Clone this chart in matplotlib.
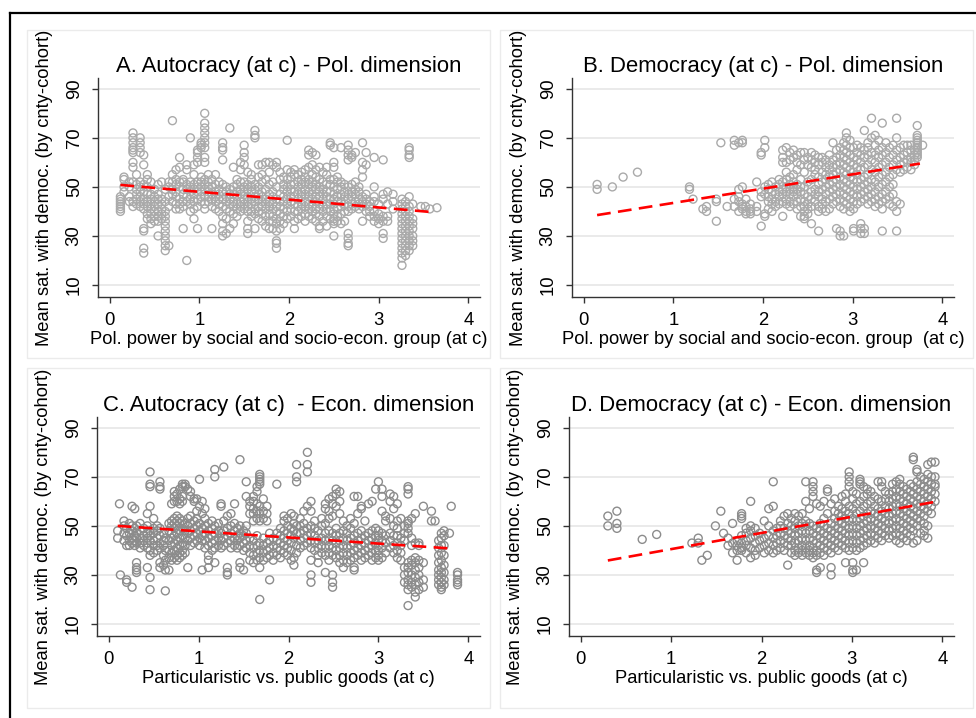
import numpy as np
import matplotlib
matplotlib.use("Agg")
import matplotlib.pyplot as plt
from matplotlib.patches import Rectangle
from matplotlib.lines import Line2D

plt.rcParams['font.family'] = ['Liberation Sans', 'DejaVu Sans']

# ---- data: (x, [y values at that x]) ----
a_groups = [
    (0.12, [40, 41, 42, 43, 44, 45, 46]), (0.16, [48, 50, 53, 54]), (0.22, [44, 46, 50, 52]),
    (0.26, [42, 44, 52, 58, 60, 64, 65, 66, 68, 70, 72]), (0.30, [43, 45, 47, 49, 51, 55]),
    (0.34, [42, 44, 46, 48, 50, 52, 64, 66, 68, 70]), (0.38, [23, 25, 32, 33, 41, 43, 45, 48, 51, 59, 63]),
    (0.42, [37, 39, 42, 44, 47, 50, 53, 55]), (0.46, [35, 37, 39, 41, 43, 45, 47, 52]),
    (0.50, [36, 38, 40, 42, 44, 46, 49]), (0.54, [30, 36, 38, 40, 43, 45, 47, 51]),
    (0.58, [37, 39, 41, 43, 45, 52]), (0.62, [24, 26, 28, 30, 32, 34, 36, 38, 40, 44, 49]),
    (0.66, [26, 42, 46, 50, 52]), (0.70, [44, 47, 49, 52, 55, 77]), (0.74, [41, 43, 46, 48, 51, 53, 57]),
    (0.78, [41, 43, 45, 50, 52, 58, 62]), (0.82, [33, 42, 44, 47, 49, 52, 53]),
    (0.86, [20, 44, 46, 49, 51, 57, 59]), (0.90, [40, 43, 45, 48, 50, 52, 70]),
    (0.94, [37, 41, 44, 47, 49, 51, 55, 59]), (0.98, [33, 42, 45, 48, 50, 52, 60, 62, 64, 65]),
    (1.02, [44, 46, 48, 50, 52, 54, 66, 67, 68]),
    (1.06, [41, 43, 46, 49, 51, 53, 60, 62, 66, 68, 70, 72, 74, 76, 80]),
    (1.10, [44, 46, 48, 50, 52, 55]), (1.14, [33, 42, 45, 47, 50, 53]), (1.18, [41, 44, 46, 48, 51, 55]),
    (1.22, [40, 43, 45, 47, 49, 52]), (1.26, [30, 32, 35, 38, 42, 45, 48, 51, 61, 65, 66, 68]),
    (1.30, [31, 37, 41, 44, 46, 48, 50]), (1.34, [33, 40, 43, 45, 47, 49, 74]),
    (1.38, [35, 39, 42, 44, 47, 50, 58]), (1.42, [38, 41, 43, 46, 48, 51, 53]),
    (1.46, [40, 42, 44, 47, 49, 52, 57, 60]), (1.50, [41, 43, 45, 48, 50, 52, 59, 62, 64, 67]),
    (1.54, [31, 33, 36, 40, 42, 44, 46, 49, 51, 56]), (1.58, [38, 40, 43, 45, 48, 50, 53, 55]),
    (1.62, [33, 39, 41, 44, 46, 49, 51, 70, 71, 73]), (1.66, [37, 40, 42, 45, 47, 50, 54, 59]),
    (1.70, [36, 39, 42, 44, 46, 48, 52, 55, 59]), (1.74, [34, 38, 41, 43, 45, 49, 53, 60]),
    (1.78, [33, 36, 39, 42, 44, 47, 51, 56, 60]), (1.82, [33, 36, 38, 41, 43, 46, 48, 52, 59]),
    (1.86, [25, 27, 28, 32, 35, 37, 40, 42, 45, 50, 58, 60]), (1.90, [33, 36, 39, 42, 44, 47, 53, 56]),
    (1.94, [35, 38, 41, 44, 46, 49, 51, 54]), (1.98, [37, 40, 43, 45, 48, 50, 53, 57, 69]),
    (2.02, [38, 41, 44, 46, 49, 51, 54, 56]), (2.06, [33, 36, 40, 43, 46, 48, 51, 55, 57]),
    (2.10, [37, 40, 42, 45, 47, 50, 52, 55]), (2.14, [38, 41, 43, 46, 48, 51, 53, 56]),
    (2.18, [36, 39, 42, 44, 47, 49, 52, 54, 57]), (2.22, [38, 41, 43, 46, 48, 51, 53, 58, 63, 65]),
    (2.26, [37, 40, 42, 45, 47, 50, 52, 55, 59, 64]), (2.30, [36, 39, 41, 44, 46, 49, 51, 54, 57, 63]),
    (2.34, [33, 34, 38, 41, 43, 46, 48, 50, 53, 58]), (2.38, [36, 40, 42, 45, 47, 49, 52, 56]),
    (2.42, [34, 38, 41, 43, 46, 48, 51, 55, 58]), (2.46, [37, 40, 43, 45, 48, 51, 53, 67, 68]),
    (2.50, [30, 35, 36, 37, 39, 41, 43, 45, 47, 50, 53, 58, 60, 66]),
    (2.54, [36, 38, 41, 44, 46, 49, 52, 54]), (2.58, [35, 39, 42, 44, 47, 50, 52, 66]),
    (2.62, [36, 40, 43, 46, 48, 51]), (2.66, [26, 27, 29, 31, 40, 42, 45, 47, 50, 61, 63, 65, 67]),
    (2.70, [41, 43, 46, 48, 51, 62, 63]), (2.74, [42, 44, 47, 49, 52, 64]), (2.78, [41, 43, 45, 48, 50]),
    (2.82, [36, 42, 44, 46, 54, 57, 60, 68]), (2.86, [40, 43, 45, 47, 59, 64]), (2.90, [38, 40, 42, 44]),
    (2.95, [36, 38, 40, 44, 46, 50, 62]), (3.00, [35, 37, 39, 43]), (3.05, [29, 31, 36, 38, 45, 47, 61]),
    (3.10, [36, 38, 43, 48]), (3.16, [41, 44, 47]),
    (3.26, [18, 21, 23, 25, 27, 29, 31, 33, 35, 37, 39, 41, 43, 45]),
    (3.30, [22, 24, 26, 28, 30, 32, 34, 36, 38, 40, 42, 44]),
    (3.34, [24, 26, 28, 30, 32, 34, 36, 38, 40, 42, 46, 62, 63, 65, 66]),
    (3.38, [26, 28, 30, 33, 35, 37, 43]), (3.47, [42]), (3.52, [42]), (3.57, [41]), (3.65, [41.5]),
]

b_groups = [
    (0.15, [49, 51]), (0.32, [50]), (0.44, [54]), (0.60, [56]), (1.18, [49, 50]), (1.22, [45]),
    (1.33, [41]), (1.37, [40, 42]), (1.48, [36, 44, 45]), (1.53, [68]), (1.60, [42]),
    (1.68, [42, 45, 67, 69]), (1.73, [40, 44, 46, 49, 68]), (1.77, [41, 42, 43, 50, 68, 69]),
    (1.81, [39, 40, 42, 45]), (1.86, [39, 40, 41, 43]), (1.93, [40, 42, 52]),
    (1.98, [34, 46, 48, 63, 64]), (2.02, [38, 39, 47, 50, 66, 69]), (2.06, [41, 44, 46, 49, 51]),
    (2.10, [40, 43, 45, 48, 52]), (2.14, [42, 44, 47, 50]), (2.18, [43, 46, 48, 51, 53]),
    (2.22, [38, 44, 47, 49, 52, 60, 62, 65]), (2.26, [43, 45, 48, 50, 53, 56, 60, 66]),
    (2.30, [42, 44, 47, 49, 51, 54, 61, 64]), (2.34, [43, 46, 48, 50, 52, 55, 62, 65]),
    (2.38, [41, 44, 47, 49, 51, 57, 60, 63]), (2.42, [38, 42, 45, 48, 50, 53, 59, 64]),
    (2.46, [37, 38, 40, 42, 44, 47, 50, 56, 61, 64]), (2.50, [39, 41, 43, 46, 52, 59, 62]),
    (2.54, [35, 42, 45, 48, 53, 58, 61, 64]), (2.58, [44, 47, 49, 55, 57, 60, 63]),
    (2.62, [32, 40, 42, 46, 48, 51, 54, 59, 62]), (2.66, [41, 43, 45, 49, 52, 56, 60, 62]),
    (2.70, [40, 44, 47, 50, 53, 55, 58, 61]), (2.74, [41, 45, 48, 51, 54, 57, 59, 63]),
    (2.78, [43, 46, 49, 52, 55, 58, 61, 68]), (2.82, [33, 44, 47, 50, 53, 56, 59, 62, 65]),
    (2.86, [30, 32, 42, 45, 48, 51, 54, 57, 60, 63, 66]),
    (2.90, [30, 41, 44, 47, 50, 53, 56, 59, 62, 65, 68]),
    (2.93, [43, 46, 49, 52, 55, 58, 61, 64, 67, 70, 72]),
    (2.97, [40, 42, 45, 48, 51, 54, 57, 60, 63, 66, 69]),
    (3.01, [32, 33, 41, 44, 47, 50, 53, 56, 59, 62, 66]), (3.05, [43, 46, 49, 52, 55, 58, 61, 64, 67]),
    (3.09, [31, 33, 35, 44, 47, 50, 53, 57, 60, 63, 66]), (3.13, [31, 33, 45, 48, 51, 54, 58, 62, 65, 73]),
    (3.17, [43, 46, 49, 52, 55, 59, 63, 66, 68]), (3.21, [44, 47, 50, 53, 57, 61, 64, 70, 78]),
    (3.25, [42, 45, 48, 52, 56, 60, 63, 67, 71]), (3.29, [43, 46, 50, 54, 58, 62, 65, 69]),
    (3.33, [32, 41, 44, 47, 51, 55, 59, 63, 66, 76]), (3.37, [45, 48, 52, 56, 60, 64, 68]),
    (3.41, [43, 46, 50, 54, 58, 62, 66]), (3.45, [42, 47, 51, 55, 59, 63, 67]),
    (3.49, [32, 40, 44, 57, 61, 65, 70, 78]), (3.53, [43, 56, 59, 62, 66]), (3.57, [57, 60, 63, 67]),
    (3.61, [58, 61, 64, 67]), (3.65, [57, 60, 62, 65, 67]), (3.69, [59, 61, 63, 65]),
    (3.72, [62, 63, 64, 65, 66, 67, 68, 69, 70, 71, 75]), (3.78, [67]),
]

c_groups = [
    (0.10, [45, 48]), (0.12, [59]), (0.13, [30]), (0.17, [44, 47, 50, 52]), (0.20, [27, 28, 42, 46, 49]),
    (0.23, [42, 44, 47, 51]), (0.26, [25, 43, 45, 48, 50, 58]), (0.29, [42, 44, 46, 49, 57]),
    (0.31, [31, 32, 33, 35, 43, 45, 47, 50]), (0.35, [41, 43, 45, 48, 51]), (0.39, [42, 44, 46, 49]),
    (0.43, [33, 41, 43, 45, 47, 50, 55]), (0.46, [24, 29, 38, 40, 44, 46, 48, 58, 66, 67, 72]),
    (0.50, [39, 42, 44, 47, 49, 53]), (0.54, [40, 42, 45, 48, 50]),
    (0.57, [33, 35, 41, 43, 46, 49, 65, 66, 68]), (0.61, [34, 38, 42, 44, 47]),
    (0.63, [23.5, 32, 36, 40, 45]), (0.67, [32, 37, 40, 44, 48, 51]),
    (0.70, [36, 39, 42, 45, 47, 50, 52, 59]), (0.73, [37, 40, 43, 46, 49, 51, 53, 60, 62, 64]),
    (0.76, [36, 38, 41, 44, 47, 50, 52, 54, 60, 63]), (0.79, [37, 39, 42, 45, 48, 51, 53, 59, 61, 65]),
    (0.82, [38, 40, 43, 46, 49, 52, 60, 62, 66, 67]), (0.85, [39, 42, 45, 48, 51, 66, 67]),
    (0.88, [33, 44, 47, 50, 53, 65]), (0.91, [42, 45, 48, 51, 54, 62, 64]),
    (0.95, [43, 46, 49, 52, 60, 61]), (0.98, [44, 47, 50, 53, 56, 61]), (1.01, [42, 45, 48, 51, 58, 69]),
    (1.04, [32, 44, 46, 49, 55, 60]), (1.07, [41, 44, 47, 50, 53, 57]),
    (1.11, [33, 36, 38, 42, 45, 48, 51]), (1.15, [40, 43, 46, 49, 52]),
    (1.18, [35, 41, 44, 47, 50, 70, 73]), (1.22, [42, 45, 48, 51]), (1.25, [41, 44, 47, 58, 59]),
    (1.28, [42, 45, 48, 52, 74]), (1.32, [30, 31, 33, 43, 46, 49, 54]), (1.36, [41, 44, 47, 50, 55]),
    (1.40, [42, 45, 48, 51, 59]), (1.43, [41, 44, 46, 49]), (1.46, [33, 35, 42, 45, 47, 50, 77]),
    (1.50, [32, 40, 43, 46, 48]), (1.53, [41, 44, 47, 50, 62, 68]), (1.57, [36, 39, 42, 45, 55, 58, 60]),
    (1.61, [35, 38, 41, 44, 52, 55, 57, 60, 62]), (1.65, [36, 39, 42, 46, 53, 56, 59, 64, 66]),
    (1.68, [20, 33, 37, 40, 43, 52, 55, 58, 67, 68, 69, 70, 71]), (1.72, [36, 39, 42, 45, 53, 56, 61]),
    (1.76, [37, 40, 43, 52, 55, 58]), (1.79, [28, 38, 41, 44, 47]), (1.83, [36, 39, 42, 45]),
    (1.87, [38, 41, 44, 47, 67]), (1.91, [37, 40, 43, 46, 49]), (1.95, [39, 42, 45, 48, 52, 54]),
    (1.99, [38, 41, 44, 47, 50, 53]), (2.03, [36, 40, 43, 46, 49, 55]), (2.06, [34, 37, 45, 48, 51, 54]),
    (2.09, [39, 42, 47, 50, 68, 70, 75]), (2.13, [41, 44, 47, 50, 53]), (2.17, [42, 45, 48, 51, 56]),
    (2.21, [43, 46, 49, 58, 72, 75, 80]), (2.25, [27, 30, 36, 41, 44, 47, 50, 56, 60]),
    (2.29, [40, 43, 46, 49, 52]), (2.33, [35, 38, 41, 44, 48]), (2.37, [39, 42, 45, 50, 53]),
    (2.41, [31, 38, 41, 44, 47, 51, 57, 59]), (2.45, [36, 39, 42, 45, 48, 53, 56, 61]),
    (2.49, [25, 27, 30, 38, 41, 44, 47, 54, 59, 62]), (2.53, [37, 40, 43, 46, 49, 58, 63, 65]),
    (2.57, [35, 38, 41, 44, 47, 55, 60, 64]), (2.61, [33, 36, 39, 42, 45, 48, 52]),
    (2.65, [35, 38, 41, 44, 47, 50]), (2.69, [36, 39, 42, 45, 49, 53]),
    (2.73, [32, 33, 37, 40, 43, 46, 51, 62]), (2.77, [38, 41, 44, 47, 55, 62]),
    (2.81, [36, 39, 42, 45, 48, 57, 58]), (2.85, [37, 40, 43, 46, 52]), (2.89, [38, 41, 44, 47, 59]),
    (2.93, [36, 39, 42, 45, 48, 60]), (2.97, [37, 40, 43, 46, 49, 65]),
    (3.00, [36, 38, 40, 42, 44, 46, 48, 68]), (3.04, [37, 41, 44, 47, 56, 62, 65]),
    (3.08, [39, 43, 46, 52, 54]), (3.13, [41, 44, 47, 53, 60, 63]), (3.17, [39, 42, 46, 50, 57, 62]),
    (3.21, [37, 40, 43, 46, 49, 52, 59]), (3.25, [36, 39, 42, 45, 53]), (3.29, [27, 30, 33, 44, 47, 50]),
    (3.33, [17.5, 24, 26, 28, 31, 33, 35, 47, 49, 51, 52, 63, 65, 66]),
    (3.37, [25, 27, 30, 34, 36, 42, 45, 53]), (3.41, [21, 23, 26, 29, 32, 35, 37, 43, 55]),
    (3.45, [24, 27, 30, 33, 36, 42, 43]), (3.50, [25, 28, 35, 58]), (3.59, [52, 56]), (3.63, [52]),
    (3.67, [26, 28, 30, 32, 35, 38, 41, 44]), (3.70, [24, 25, 27, 29, 31, 33, 36, 39, 42, 45, 47]),
    (3.73, [26, 28, 31, 34, 38, 42, 46, 48]), (3.79, [47]), (3.81, [58]), (3.88, [26, 27, 28, 30, 31]),
]

d_groups = [
    (0.30, [50, 54]), (0.40, [49, 51, 56]), (0.68, [44.5]), (0.84, [46.5]), (1.23, [43]),
    (1.30, [43, 45]), (1.34, [36]), (1.40, [38]), (1.49, [50]), (1.55, [56]), (1.58, [47]),
    (1.63, [42, 45]), (1.68, [39, 43, 51]), (1.73, [36, 40, 42, 44]), (1.78, [40, 41, 43, 46, 53, 54, 55]),
    (1.83, [39, 42, 44, 47, 49]), (1.88, [37, 41, 45, 48, 50, 60]), (1.93, [38, 40, 43, 46, 49]),
    (1.98, [41, 44, 47]), (2.03, [39, 42, 45, 52]), (2.08, [40, 43, 46, 50, 57]),
    (2.13, [39, 42, 45, 48, 58, 68]), (2.17, [40, 43, 46, 49]), (2.21, [41, 44, 47, 50, 52]),
    (2.25, [40, 43, 46, 49, 54]), (2.29, [34, 42, 45, 48, 51, 55]), (2.33, [39, 42, 44, 47, 50, 53]),
    (2.37, [38, 40, 43, 46, 49, 52, 55]), (2.41, [39, 41, 44, 47, 50, 54]),
    (2.45, [38, 40, 42, 45, 48, 51, 55]), (2.49, [39, 41, 44, 47, 50, 52, 60, 68]),
    (2.53, [38, 40, 42, 45, 48, 51, 57]), (2.57, [37, 39, 41, 44, 47, 50, 62, 64, 66, 68]),
    (2.61, [31, 32, 38, 40, 43, 46, 49, 59]), (2.65, [33, 39, 42, 45, 48, 51, 58]),
    (2.69, [38, 41, 44, 47, 50, 53, 60]), (2.73, [40, 43, 46, 49, 55, 64, 65]),
    (2.77, [30, 33, 39, 42, 45, 48, 51, 59]), (2.81, [41, 44, 47, 50, 53, 56, 61]),
    (2.85, [40, 43, 46, 49, 52, 55, 58]), (2.89, [42, 45, 48, 51, 54, 57, 62]),
    (2.93, [35, 41, 44, 47, 50, 53, 56, 60, 63]), (2.97, [40, 43, 46, 49, 52, 55, 58, 66, 68, 70, 72]),
    (3.01, [31, 32, 35, 41, 44, 47, 50, 53, 57, 61, 64]), (3.05, [32, 40, 43, 46, 49, 52, 55, 59, 63]),
    (3.09, [41, 44, 47, 50, 53, 56, 60, 67, 68, 69]), (3.13, [35, 42, 45, 48, 51, 54, 58, 62, 66]),
    (3.17, [43, 46, 49, 52, 55, 59, 63, 65]), (3.21, [44, 47, 50, 53, 56, 60, 64]),
    (3.25, [43, 46, 49, 52, 55, 58, 62]), (3.29, [45, 48, 51, 54, 57, 61, 68]),
    (3.33, [44, 47, 50, 53, 56, 60, 66, 68]), (3.37, [46, 49, 52, 55, 58, 61, 64]),
    (3.41, [45, 48, 51, 54, 57, 60, 63]), (3.45, [46, 49, 52, 55, 58, 61, 64, 67]),
    (3.49, [44, 47, 50, 53, 56, 59, 62, 65, 68]), (3.53, [43, 46, 49, 52, 55, 58, 61, 64, 67, 69]),
    (3.57, [45, 48, 51, 54, 57, 60, 63, 66]), (3.61, [44, 47, 50, 53, 56, 59, 62, 65]),
    (3.65, [46, 49, 52, 55, 58, 61, 64, 67]), (3.68, [43, 48, 51, 54, 57, 60, 63, 66, 77, 78]),
    (3.72, [44, 50, 53, 56, 59, 62, 65, 68, 72, 73]), (3.76, [47, 52, 55, 58, 61, 64, 67, 70]),
    (3.80, [46, 48, 51, 54, 57, 60, 63, 66, 69]), (3.84, [45, 50, 56, 59, 62, 65, 68, 71, 75]),
    (3.88, [55, 58, 61, 64, 67, 70, 76]), (3.92, [60, 63, 66, 67, 70, 76]),
]

# fitted lines (end points)
a_fit = ([0.12, 3.60], [50.8, 39.7])
b_fit = ([0.15, 3.75], [38.5, 59.5])
c_fit = ([0.10, 3.80], [50.0, 40.8])
d_fit = ([0.30, 3.92], [35.9, 59.8])

titles = ["A. Autocracy (at c) - Pol. dimension", "B. Democracy (at c) - Pol. dimension",
          "C. Autocracy (at c)  - Econ. dimension", "D. Democracy (at c) - Econ. dimension"]
xlabels = ["Pol. power by social and socio-econ. group (at c)",
           "Pol. power by social and socio-econ. group  (at c)",
           "Particularistic vs. public goods (at c)", "Particularistic vs. public goods (at c)"]
ylabel = "Mean sat. with democ. (by cnty-cohort)"
xticks = [0, 1, 2, 3, 4]
yticks = [10, 30, 50, 70, 90]


def expand(groups):
    xs, ys = [], []
    for x, yl in groups:
        xs += [x] * len(yl)
        ys += yl
    return np.array(xs), np.array(ys)


W, H = 976, 718
fig = plt.figure(figsize=(W / 100, H / 100), dpi=100)


def frac(l, t, r, b):
    return [l / W, 1 - b / H, (r - l) / W, (b - t) / H]


# outer black frame (only top and left visible) and faint panel boxes
fig.add_artist(Line2D([10 / W, 1], [1 - 13 / H, 1 - 13 / H], color='black', lw=1.6))
fig.add_artist(Line2D([10 / W, 10 / W], [0, 1 - 13 / H], color='black', lw=1.6))
for l, t, r, b in [(27, 30, 490, 358), (500, 30, 973, 358), (27, 368, 490, 708), (500, 368, 973, 708)]:
    fig.add_artist(Rectangle((l / W, 1 - b / H), (r - l) / W, (b - t) / H, fill=False,
                             ec='#ebebeb', lw=1.0, transform=fig.transFigure))

rects = [(98, 78, 480, 297), (572, 78, 954, 297), (97, 417, 480, 636), (569, 417, 954, 636)]
groups = [a_groups, b_groups, c_groups, d_groups]
fits = [a_fit, b_fit, c_fit, d_fit]
mcolors = ['#aaaaaa', '#aaaaaa', '#8c8c8c', '#8c8c8c']

for i in range(4):
    ax = fig.add_axes(frac(*rects[i]))
    x, y = expand(groups[i])
    ax.scatter(x, y, s=33, facecolors='none', edgecolors=mcolors[i], linewidths=1.0, zorder=2)
    fx, fy = fits[i]
    ax.plot(fx, fy, color='#ff0000', lw=1.9, dashes=(5.2, 2.8), zorder=3)
    ax.set_xlim(-0.13, 4.13)
    ax.set_ylim(5.1, 94.4)
    ax.set_xticks(xticks)
    ax.set_yticks(yticks)
    for yt in yticks:
        ax.axhline(yt, color='#e6e6e6', lw=1.2, zorder=0)
    for s in ['top', 'right']:
        ax.spines[s].set_visible(False)
    for s in ['left', 'bottom']:
        ax.spines[s].set_color('#333333')
        ax.spines[s].set_linewidth(1.0)
    ax.tick_params(axis='both', direction='out', length=4.5, width=1.0, color='#333333',
                   labelsize=13.3, pad=6.5)
    for lab in ax.get_yticklabels():
        lab.set_rotation(90)
        lab.set_va('center')
    ax.set_title(titles[i], fontsize=15.9, pad=4)
    ax.set_xlabel(xlabels[i], fontsize=13.2, labelpad=1)
    ax.set_ylabel(ylabel, fontsize=13.2, labelpad=9)

fig.savefig('out.png', dpi=100)
